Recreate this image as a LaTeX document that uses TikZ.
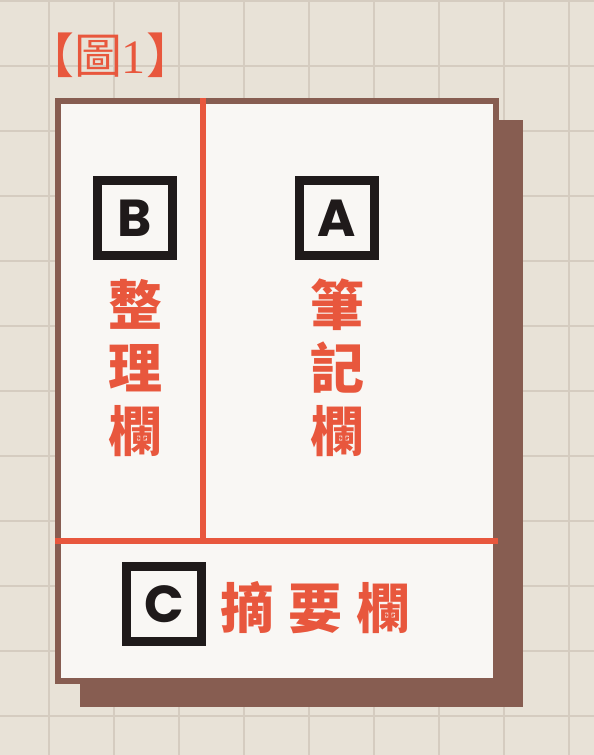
\documentclass[tikz,border=0pt]{standalone}
\usepackage{fontspec}
\usepackage{xcolor}
\newfontfamily\cjk{Noto Sans CJK TC}
\newfontfamily\cjkheavy{Noto Sans CJK TC Black}
\newfontfamily\letterfont{Poppins}
\newfontfamily\numfont{Liberation Serif}
\definecolor{paper}{HTML}{E8E2D7}
\definecolor{gridline}{HTML}{D5CCC0}
\definecolor{sheet}{HTML}{F9F7F4}
\definecolor{umber}{HTML}{875D51}
\definecolor{tomato}{HTML}{E8573D}
\definecolor{ink}{HTML}{1F1A1A}
\tikzset{
  letterbox/.style={draw=ink, line width=9pt, minimum size=75pt, inner sep=0pt,
    font=\letterfont\bfseries\fontsize{52}{52}\selectfont, text=ink},
  bigchar/.style={inner sep=0pt, anchor=base, text=tomato,
    font=\cjkheavy\fontsize{54}{54}\selectfont},
  rule/.style={draw=tomato, line width=6pt}
}

\begin{document}
\begin{tikzpicture}[x=1pt,y=-1pt]
\fill [paper] (0,0) rectangle (594,755);
\useasboundingbox (0,0) rectangle (594,755);
% grid
\foreach \x in {-16,49,...,569}
  \draw [gridline, line width=2pt] (\x,0) -- (\x,755);
\foreach \y in {1,66,...,716}
  \draw [gridline, line width=2pt] (0,\y) -- (594,\y);
% title
\node [inner sep=0pt, anchor=base, text=tomato] (title) at (110,73)
  {\cjk\fontsize{48}{48}\selectfont 【圖{\numfont 1}】};
% sheet with shadow
\fill [umber] (80,120) rectangle (523,707);
\draw [umber, fill=sheet, line width=6pt] (58,101) rectangle (496,681);
\draw [rule] (203,98) -- (203,540.5);
\draw [rule] (55,540.5) -- (498,540.5);
% boxes
\node [letterbox] (boxB) at (135,218) {B};
\node [letterbox] (boxA) at (336.5,218) {A};
\node [letterbox] (boxC) at (164,604) {C};
% columns
\foreach \ch [count=\i] in {整,理,欄}
  \node [bigchar] (colB\i) at (135,{325+63*(\i-1)}) {\ch};
\foreach \ch [count=\i] in {筆,記,欄}
  \node [bigchar] (colA\i) at (337,{325+63*(\i-1)}) {\ch};
\foreach \ch [count=\i] in {摘,要,欄}
  \node [bigchar] (rowC\i) at ({247+68*(\i-1)},628) {\ch};
\end{tikzpicture}
\end{document}
